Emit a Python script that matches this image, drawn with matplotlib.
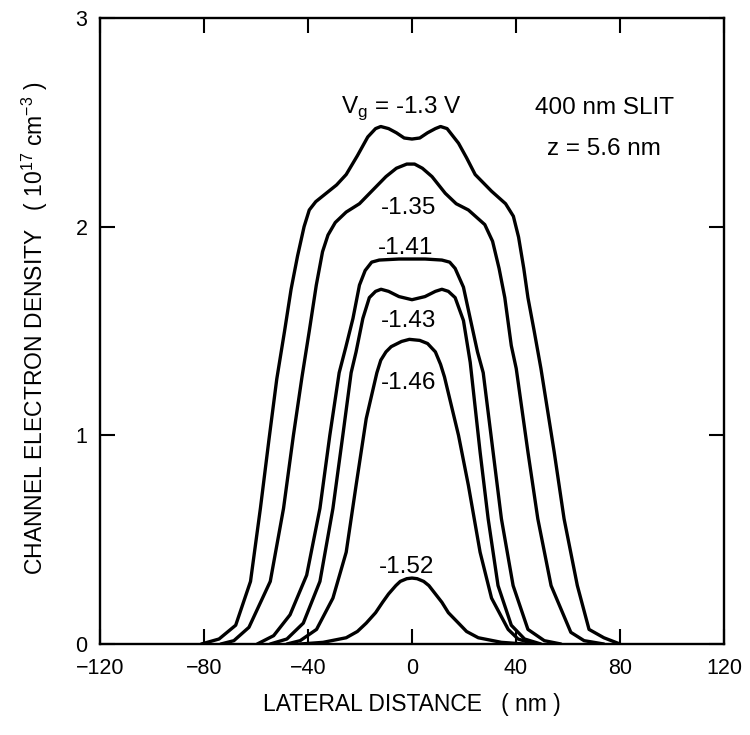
import matplotlib
matplotlib.use("Agg")
import matplotlib.pyplot as plt

plt.rcParams['font.family'] = ['Liberation Sans', 'DejaVu Sans']
plt.rcParams['mathtext.fontset'] = 'custom'
plt.rcParams['mathtext.rm'] = 'Liberation Sans'

# ------------------------------
# curves (x in nm, density in 1e17 cm^-3)
# ------------------------------
x_130 = [-81, -74.2, -67.8, -62.1, -58.3, -55, -52, -49, -46.5, -44, -41.5, -39.5, -37, -33, -29,
         -25.3, -21, -17, -14, -12, -9, -6, -3, 0, 3, 6, 9, 11, 13.5, 17.9, 21, 24.3, 30.6,
         36, 39, 41, 43, 44.6, 47, 49.6, 54.7, 58.5, 63.6, 68.1, 73.8, 80]
y_130 = [0, 0.024, 0.09, 0.30, 0.65, 0.98, 1.27, 1.50, 1.70, 1.86, 2.00, 2.08, 2.12, 2.16, 2.20,
         2.25, 2.34, 2.43, 2.47, 2.48, 2.47, 2.45, 2.425, 2.42, 2.425, 2.45, 2.47, 2.48, 2.47, 2.40, 2.33, 2.25, 2.17,
         2.11, 2.05, 1.95, 1.80, 1.66, 1.50, 1.32, 0.92, 0.60, 0.28, 0.07, 0.03, 0]

x_135 = [-73.5, -68.5, -62.7, -54.5, -49.4, -45.6, -42.3, -39.5, -36.8, -34.4, -32.3, -29.5, -25.3,
         -20.2, -15.5, -10, -6, -2, 1, 4, 7.7, 12.8, 17, 21.7, 28, 31, 33.5, 35.7, 38.2,
         40.1, 44.6, 48.4, 53.5, 61.1, 66.2, 73.8]
y_135 = [0, 0.016, 0.08, 0.30, 0.65, 1.00, 1.28, 1.50, 1.72, 1.88, 1.96, 2.02, 2.07,
         2.11, 2.17, 2.24, 2.28, 2.30, 2.30, 2.28, 2.24, 2.16, 2.11, 2.08, 2.01, 1.93, 1.80, 1.66, 1.43,
         1.32, 0.92, 0.60, 0.28, 0.056, 0.016, 0]

x_141 = [-59.5, -53.2, -46.9, -40.5, -35.4, -31.6, -28, -25.5, -22.7, -20.2, -18, -15.5, -12.6,
         -5, 5, 11.5, 14.5, 16.6, 19.8, 22.4, 25.2, 27.4, 31.2, 34.4, 38.9, 44.6, 50.9, 57.3]
y_141 = [0, 0.04, 0.14, 0.33, 0.65, 1.00, 1.30, 1.42, 1.56, 1.72, 1.79, 1.83, 1.84,
         1.845, 1.845, 1.84, 1.83, 1.80, 1.71, 1.56, 1.40, 1.30, 0.92, 0.60, 0.28, 0.07, 0.016, 0]

x_143 = [-54.5, -48.1, -41.8, -35.4, -30.4, -26.6, -23.4, -21.5, -18.9, -16.4, -14, -11.9, -9,
         -5, 0, 5, 9, 11.5, 14, 16.6, 19.8, 22.4, 26.2, 29.3, 33.1, 38.2, 43.3, 49.6]
y_143 = [0, 0.024, 0.10, 0.30, 0.65, 1.0, 1.30, 1.40, 1.56, 1.66, 1.69, 1.70, 1.69,
         1.665, 1.65, 1.665, 1.69, 1.70, 1.69, 1.66, 1.55, 1.35, 0.92, 0.60, 0.28, 0.09, 0.024, 0]

x_146 = [-48.1, -43, -36.7, -30.4, -25.3, -21.5, -17.6, -13.5, -12, -10, -8, -4, -1, 3, 6,
         9, 11, 12.5, 17.9, 21.7, 26.2, 30.6, 37, 40.8, 47]
y_146 = [0, 0.016, 0.07, 0.22, 0.44, 0.76, 1.08, 1.30, 1.36, 1.40, 1.425, 1.45, 1.46, 1.455, 1.44,
         1.40, 1.34, 1.28, 1.0, 0.76, 0.44, 0.22, 0.07, 0.024, 0]

x_152 = [-43, -34.2, -25.3, -21, -17.6, -14, -11.3, -9, -6.2, -4.5, -2, 0, 2, 4.5, 6.5,
         9, 11.5, 14, 17.9, 21, 25.5, 34.4, 43.3]
y_152 = [0, 0.008, 0.03, 0.06, 0.10, 0.15, 0.20, 0.24, 0.28, 0.30, 0.313, 0.316, 0.313, 0.30, 0.28,
         0.24, 0.20, 0.15, 0.10, 0.06, 0.03, 0.008, 0]

curve_labels = ['-1.35', '-1.41', '-1.43', '-1.46', '-1.52']
label_x = [-1.2, -2.3, -1.2, -1.2, -1.9]
label_y = [2.09, 1.90, 1.55, 1.25, 0.37]

x_ticks = [-120, -80, -40, 0, 40, 80, 120]
x_ticklabels = ['\u2212120', '\u221280', '\u221240', '0', '40', '80', '120']
y_ticks = [0, 1, 2, 3]

# -----------------------
# plotting
# -----------------------
fig = plt.figure(figsize=(7.5, 7.35), dpi=100)
ax = fig.add_axes([0.1333, 0.1238, 0.832, 0.8517])

for xs, ys in [(x_130, y_130), (x_135, y_135), (x_141, y_141),
               (x_143, y_143), (x_146, y_146), (x_152, y_152)]:
    ax.plot(xs, ys, color='black', lw=2.4, solid_joinstyle='round', solid_capstyle='round')

for txt, lx, ly in zip(curve_labels, label_x, label_y):
    ax.text(lx, ly, txt, fontsize=17.5, ha='center', va='center')

ax.text(-4, 2.57, r'V$_\mathregular{g}$ = -1.3 V', fontsize=17.5, ha='center', va='center')
ax.text(74, 2.57, '400 nm SLIT', fontsize=17.5, ha='center', va='center')
ax.text(74, 2.37, 'z = 5.6 nm', fontsize=17.5, ha='center', va='center')

ax.set_xlim(-120, 120)
ax.set_ylim(0, 3)
ax.set_xticks(x_ticks)
ax.set_xticklabels(x_ticklabels)
ax.set_yticks(y_ticks)
ax.tick_params(direction='in', length=11, width=1.5, top=True, right=True,
               labelsize=15.5)
ax.tick_params(axis='x', pad=10)
ax.tick_params(axis='y', pad=9)
for s in ax.spines.values():
    s.set_linewidth(1.7)

fig.text(412 / 750, 1 - 705 / 735, 'LATERAL DISTANCE   ( nm )', fontsize=16.5,
         ha='center', va='center')
fig.text(35 / 750, 1 - 328 / 735,
         r'CHANNEL ELECTRON DENSITY   ( 10$^{\mathregular{17}}$ cm$^{\mathregular{-3}}$ )',
         fontsize=16.5, rotation=90, ha='center', va='center')

fig.savefig('out.png', dpi=100)
